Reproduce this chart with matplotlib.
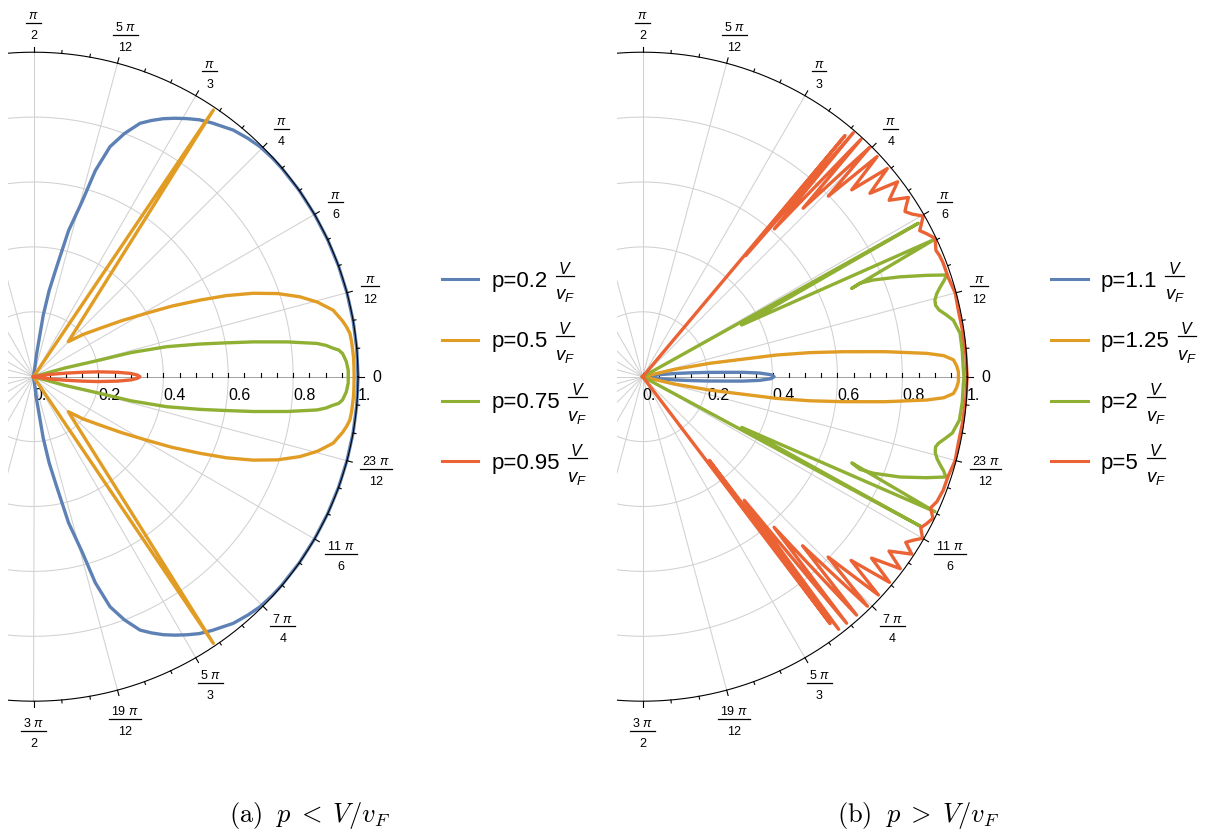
import numpy as np
import matplotlib
matplotlib.use("Agg")
import matplotlib.pyplot as plt
from matplotlib.lines import Line2D
from matplotlib.transforms import offset_copy

plt.rcParams['font.family'] = ['Liberation Sans', 'DejaVu Sans']
plt.rcParams['mathtext.fontset'] = 'custom'
plt.rcParams['mathtext.rm'] = 'Liberation Sans'
plt.rcParams['mathtext.it'] = 'Liberation Sans:italic'
plt.rcParams['mathtext.bf'] = 'Liberation Sans:bold'

BLUE, ORANGE, GREEN, RED = '#5E81B5', '#E19C24', '#8FB032', '#EB6235'

# ------------------------------------------------------------------
# DATA  (angle in degrees, radius); curves
# ------------------------------------------------------------------
# Panel (a)  p < V/v_F  -- upper halves, from theta = 0 outwards (curves are mirror symmetric)
a_blue_theta = [0, 5, 10, 15, 20, 25, 30, 35, 40, 42.5, 45.4, 48, 51, 54.9, 57.2, 59.3, 61.3,
                63.3, 65.3, 67.2, 69.5, 71.6, 73.3, 74.5, 76.5, 78.1, 79.7, 81, 82.2, 84]
a_blue_r = [1, 1, 1, 1, 1, 1, 1, 1, 0.999, 0.998, 0.995, 0.988, 0.978, 0.956, 0.942, 0.925,
            0.908, 0.89, 0.869, 0.847, 0.80, 0.747, 0.663, 0.56, 0.463, 0.346, 0.27, 0.192,
            0.072, 0.0]

a_orange_theta = [0, 1.8, 3.4, 4.9, 6.4, 7.8, 9.0, 10.2, 12.5, 14.7, 16.7, 18.8, 20.8, 22.8,
                  24.7, 27.0, 29.3, 32.5, 36.0, 40.5, 45.2, 56.0, 56.3]
a_orange_r = [0.988, 0.988, 0.988, 0.987, 0.986, 0.984, 0.977, 0.968, 0.946, 0.905, 0.857,
              0.795, 0.724, 0.645, 0.565, 0.48, 0.40, 0.32, 0.254, 0.20, 0.152, 0.991, 0.0]

a_green_theta = [0, 1.2, 2.8, 4.3, 5.0, 5.5, 6.1, 6.7, 7.8, 9.0, 10.0, 11.1, 12.7, 13.9, 14.1,
                 15.5, 17.0]
a_green_r = [0.97, 0.97, 0.965, 0.955, 0.944, 0.925, 0.907, 0.879, 0.79, 0.686, 0.60, 0.523,
             0.421, 0.309, 0.211, 0.1, 0.0]

a_red_theta = [0, 0.9, 1.9, 3.0, 4.3, 5.2, 6.3, 8.0, 8.5]
a_red_r = [0.328, 0.32, 0.30, 0.26, 0.20, 0.15, 0.10, 0.05, 0.0]

# Panel (b)  p > V/v_F
b_blue_theta = [0, 0.9, 1.8, 2.5, 3.1, 3.8, 4.6, 5.7, 7.0, 7.5]
b_blue_r = [0.405, 0.395, 0.36, 0.31, 0.25, 0.20, 0.15, 0.10, 0.05, 0.0]

b_orange_theta = [0, 0.9, 2.0, 3.1, 4.0, 4.7, 5.9, 7.1, 8.2, 9.2, 11.3, 13.0, 14.5]
b_orange_r = [0.973, 0.973, 0.968, 0.959, 0.93, 0.878, 0.75, 0.623, 0.52, 0.418, 0.211, 0.1, 0.0]

b_green_up_theta = [0, 1.8, 4.5, 7.8, 10.3, 11.5, 12.7, 13.7, 14.7, 15.8, 16.8, 17.7, 18.5,
                    19.65, 21.2, 22.75, 23.3, 22.9, 25.2, 27.6, 29.1, 29.1]
b_green_up_r = [0.99, 0.988, 0.988, 0.987, 0.973, 0.955, 0.936, 0.929, 0.931, 0.942, 0.958,
                0.975, 0.988, 0.929, 0.851, 0.771, 0.729, 0.699, 0.995, 0.344, 0.972, 0.0]
b_green_lo_theta = [0, -1.8, -4.5, -7.8, -10.3, -11.5, -12.7, -13.5, -14.5, -15.6, -16.5,
                    -17.4, -18.3, -19.6, -21.3, -22.7, -23.1, -22.4, -24.8, -27.1, -28.3, -28.3]
b_green_lo_r = [0.99, 0.988, 0.988, 0.985, 0.97, 0.952, 0.934, 0.928, 0.931, 0.942, 0.956,
                0.972, 0.984, 0.928, 0.851, 0.771, 0.727, 0.697, 0.992, 0.343, 0.976, 0.0]

b_red_up_theta = [0, 4, 8, 12, 15, 18, 20.7, 22.2, 23.3, 24.3, 25.3, 26.7, 27.8, 28.9, 29.8,
                  31.1, 32.2, 33.2, 34.0, 35.6, 37.4, 38.9, 40.4, 41.8, 43.2, 44.2, 45.3, 46.4,
                  47.4, 48.3, 49.2, 49.6, 50.0, 50.0]
b_red_up_r = [1.0, 0.998, 0.996, 0.994, 0.997, 0.99, 0.99, 0.988, 0.984, 0.99, 0.997, 0.98,
              0.965, 0.982, 0.996, 0.97, 0.955, 0.972, 0.988, 0.934, 0.989, 0.900, 0.99, 0.864,
              0.991, 0.798, 0.994, 0.717, 0.994, 0.61, 0.993, 0.49, 0.97, 0.0]
b_red_lo_theta = [0, -4, -8, -12, -15, -18, -20.7, -23, -24.5, -26, -27.4, -28.5, -30, -31.1,
                  -32.2, -33.4, -35.3, -36.7, -38.4, -39.8, -41.4, -42.8, -44.2, -45.6, -46.6,
                  -48.1, -48.9, -50.4, -50.6, -52.2, -51.5, -52.8, -52.8]
b_red_lo_r = [1.0, 0.998, 0.996, 0.994, 0.997, 0.99, 0.99, 0.985, 0.975, 0.995, 0.985, 0.975,
              0.996, 0.975, 0.958, 0.993, 0.93, 0.99, 0.90, 0.99, 0.856, 0.99, 0.797, 0.99,
              0.717, 0.987, 0.616, 0.986, 0.493, 0.985, 0.33, 0.955, 0.0]

a_labels = ['p=0.2', 'p=0.5', 'p=0.75', 'p=0.95']
b_labels = ['p=1.1', 'p=1.25', 'p=2', 'p=5']
captions = [r'$\mathrm{(a)}\;\ p\;<\;V/v_F$', r'$\mathrm{(b)}\;\ p\;>\;V/v_F$']

radial_ticks = [0.0, 0.2, 0.4, 0.6, 0.8, 1.0]
radial_ticklabels = ['0.', '0.2', '0.4', '0.6', '0.8', '1.']
angle_labels = [(90, r'$\pi$', '2'), (75, r'5 $\pi$', '12'), (60, r'$\pi$', '3'),
                (45, r'$\pi$', '4'), (30, r'$\pi$', '6'), (15, r'$\pi$', '12'),
                (0, '0', None), (-15, r'23 $\pi$', '12'), (-30, r'11 $\pi$', '6'),
                (-45, r'7 $\pi$', '4'), (-60, r'5 $\pi$', '3'), (-75, r'19 $\pi$', '12'),
                (-90, r'3 $\pi$', '2')]


def symmetric(theta, r):
    th = np.asarray(theta, float)
    rr = np.asarray(r, float)
    return np.concatenate([th[::-1], -th[1:]]), np.concatenate([rr[::-1], rr[1:]])


def join_halves(th_up, r_up, th_lo, r_lo):
    return (np.concatenate([np.asarray(th_up, float)[::-1], np.asarray(th_lo, float)[1:]]),
            np.concatenate([np.asarray(r_up, float)[::-1], np.asarray(r_lo, float)[1:]]))


def polar_xy(theta_deg, r):
    th = np.radians(np.asarray(theta_deg, float))
    r = np.asarray(r, float)
    return r * np.cos(th), r * np.sin(th)


# ------------------------------------------------------------------
W, H = 1207, 832
R = 324.5                       # pixels per unit radius
ORIGINS = [(33.5, 376.7), (642.7, 376.7)]
XMIN, XMAX, YMAX = -0.079, 1.12, 1.13
GRID = '0.82'

fig = plt.figure(figsize=(W / 100, H / 100), dpi=100)
renderer = fig.canvas.get_renderer()


def make_axes(ox, oy):
    left = ox + XMIN * R
    width = (XMAX - XMIN) * R
    top = oy - YMAX * R
    height = 2 * YMAX * R
    ax = fig.add_axes([left / W, 1 - (top + height) / H, width / W, height / H])
    ax.set_xlim(XMIN, XMAX)
    ax.set_ylim(-YMAX, YMAX)
    ax.axis('off')
    return ax


def draw_frame(ax):
    t = np.linspace(0, 2 * np.pi, 721)
    for rr in [0.2, 0.4, 0.6, 0.8]:
        ax.plot(rr * np.cos(t), rr * np.sin(t), color=GRID, lw=0.75, zorder=1)
    for deg in range(0, 360, 15):
        x, y = polar_xy([deg, deg], [0, 1])
        ax.plot(x, y, color=GRID if deg != 0 else '0.65', lw=0.75, zorder=1)
    ax.plot(np.cos(t), np.sin(t), color='k', lw=0.8, zorder=5)
    for deg in range(-90, 91, 5):
        L = 1.017 if deg % 15 == 0 else 1.009
        x, y = polar_xy([deg, deg], [1.0, L])
        ax.plot(x, y, color='k', lw=0.8, zorder=5)
    for v in np.arange(0, 1.0001, 0.05):
        ax.plot([v, v], [0, 0.012], color='k', lw=0.8, zorder=2)
    for v, s in zip(radial_ticks, radial_ticklabels):
        ax.text(v, -0.073, s, ha='left', va='baseline', fontsize=11.5, color='k')
    # angular labels
    for deg, num, den in angle_labels:
        c, s = np.cos(np.radians(deg)), np.sin(np.radians(deg))
        if den is None:
            tx = ax.text(0, 0, num, fontsize=11.5, ha='center', va='baseline')
            w = tx.get_window_extent(renderer).width
            rc = (339 + w / 2) / R
            tx.set_position((rc * c, rc * s - 5.2 / R))
            continue
        tn = ax.text(0, 0, num, fontsize=9, ha='center', va='baseline',
                     transform=offset_copy(ax.transData, fig=fig, x=0, y=2.6, units='points'))
        td = ax.text(0, 0, den, fontsize=9, ha='center', va='baseline',
                     transform=offset_copy(ax.transData, fig=fig, x=0, y=-11.6, units='points'))
        bw = max(tn.get_window_extent(renderer).width, td.get_window_extent(renderer).width) + 4.0
        hw, hh = bw / 2, 15.0
        rc = (339 + np.hypot(c * hw, s * hh)) / R
        x, y = rc * c, rc * s
        tn.set_position((x, y))
        td.set_position((x, y))
        ax.plot([x - hw / R, x + hw / R], [y, y], color='k', lw=0.9, clip_on=False)


def draw_legend(x0, labels, colors):
    for k, (lab, col) in enumerate(zip(labels, colors)):
        yc = 279.3 + 60.7 * k
        fig.add_artist(Line2D([x0 / W, (x0 + 36.6) / W], [1 - yc / H] * 2, color=col, lw=2.2))
        t = fig.text((x0 + 49.5) / W, 1 - (yc + 7.4) / H, lab, fontsize=16,
                     ha='left', va='baseline')
        x1 = t.get_window_extent(renderer).x1
        bl = x1 + 8.5
        bw = 18.3
        cx = bl + bw / 2
        yb = yc - 3.8
        fig.add_artist(Line2D([bl / W, (bl + bw) / W], [1 - yb / H] * 2, color='k', lw=0.9))
        fig.text(cx / W, 1 - (yb - 1.8) / H, r'$V$', fontsize=11.5, ha='center', va='baseline')
        fig.text(cx / W, 1 - (yb + 24.0) / H, r'$v_F$', fontsize=13.5, ha='center',
                 va='baseline')


LW = 2.4
# ---------------- panel (a) ----------------
axa = make_axes(*ORIGINS[0])
draw_frame(axa)
for th, rr, col in [(a_blue_theta, a_blue_r, BLUE), (a_orange_theta, a_orange_r, ORANGE),
                    (a_green_theta, a_green_r, GREEN), (a_red_theta, a_red_r, RED)]:
    x, y = polar_xy(*symmetric(th, rr))
    axa.plot(x, y, color=col, lw=LW, zorder=3, solid_joinstyle='round')

# ---------------- panel (b) ----------------
axb = make_axes(*ORIGINS[1])
draw_frame(axb)
curves_b = [
    (symmetric(b_blue_theta, b_blue_r), BLUE),
    (symmetric(b_orange_theta, b_orange_r), ORANGE),
    (join_halves(b_green_up_theta, b_green_up_r, b_green_lo_theta, b_green_lo_r), GREEN),
    (join_halves(b_red_up_theta, b_red_up_r, b_red_lo_theta, b_red_lo_r), RED),
]
for (th, rr), col in curves_b:
    x, y = polar_xy(th, rr)
    axb.plot(x, y, color=col, lw=LW, zorder=3, solid_joinstyle='round')

colors = [BLUE, ORANGE, GREEN, RED]
draw_legend(441.7, a_labels, colors)
draw_legend(441.7 + 609.2, b_labels, colors)

fig.text(309 / W, 1 - 822 / H, captions[0], fontsize=19, ha='center', va='baseline',
         math_fontfamily='cm')
fig.text(918 / W, 1 - 822 / H, captions[1], fontsize=19, ha='center', va='baseline',
         math_fontfamily='cm')

fig.savefig('out.png', dpi=100, facecolor='white')
